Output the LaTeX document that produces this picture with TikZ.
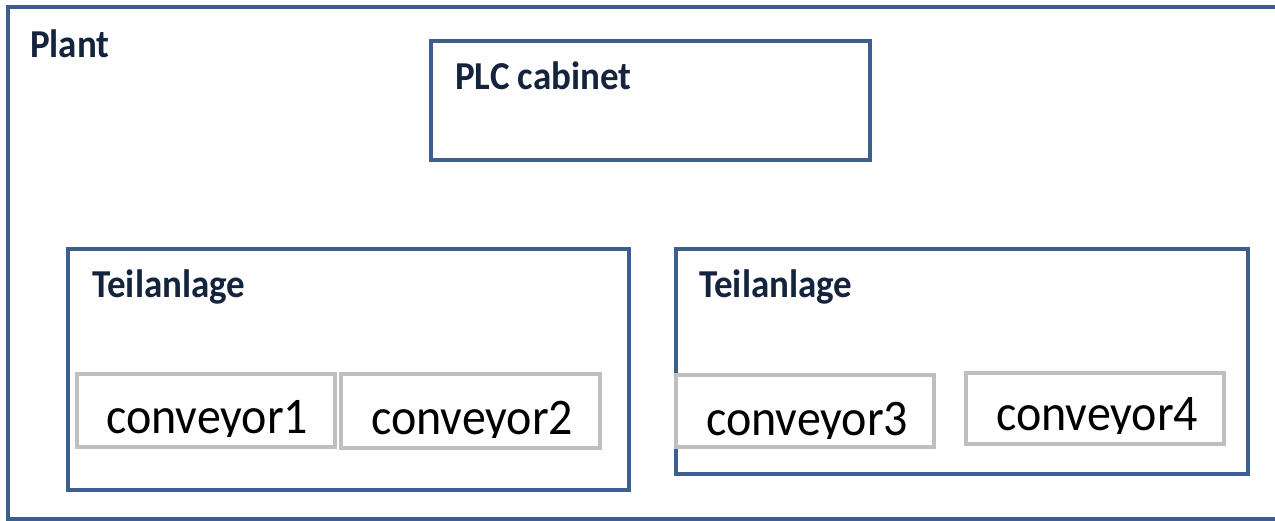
\documentclass[tikz,border=0pt]{standalone}
\usepackage{fontspec}
\setmainfont{Carlito}
\definecolor{frameblue}{HTML}{3C5F8E}
\definecolor{convgray}{HTML}{BFBFBF}
\definecolor{titleink}{HTML}{14243D}
% slightly tall lettering
\newcommand{\tallword}[1]{\scalebox{1}[1.07]{#1}}
\begin{document}
\begin{tikzpicture}[x=1pt,y=-1pt,
  frame/.style={draw=frameblue,line width=4pt,inner sep=0pt,outer sep=0pt,anchor=north west},
  convbox/.style={draw=convgray,line width=4pt,fill=white,inner sep=0pt,outer sep=0pt,anchor=north west},
  title/.style={font=\fontsize{37}{40}\selectfont\bfseries,text=titleink,anchor=base west,inner sep=0pt},
  convlabel/.style={font=\fontsize{48}{52}\selectfont,text=black,anchor=base west,inner sep=0pt}]
\useasboundingbox (0,0) rectangle (1275,520);
\clip (0,0) rectangle (1275,520);
\fill[white] (0,0) rectangle (1275,520);

% outer plant frame (runs past the right edge)
\node[frame,minimum width=1300pt,minimum height=512pt] (plant) at (8,7) {};
\node[title] (plantlbl) at (30,57) {\tallword{Plant}};

% PLC cabinet
\node[frame,minimum width=439pt,minimum height=119pt] (plc) at (431,41) {};
\node[title] (plclbl) at (455,89) {\tallword{PLC cabinet}};

% sub-plants
\node[frame,minimum width=561pt,minimum height=241pt] (teilA) at (68,249) {};
\node[title] (teilAlbl) at (92,297) {\tallword{Teilanlage}};
\node[frame,minimum width=572pt,minimum height=225pt] (teilB) at (676,249) {};
\node[title] (teilBlbl) at (699,297) {\tallword{Teilanlage}};

% conveyors
\node[convbox,minimum width=258pt,minimum height=73pt] (conv1) at (77,374) {};
\node[convbox,minimum width=259pt,minimum height=74pt] (conv2) at (341,374) {};
\node[convbox,minimum width=258pt,minimum height=72pt] (conv3) at (676,375) {};
\node[convbox,minimum width=258pt,minimum height=71pt] (conv4) at (966,373) {};

% conveyor labels, cut off just below the baseline
\begin{scope}
  \clip (77,374) rectangle (335,436);
  \node[convlabel] (conv1lbl) at (106,433) {\tallword{conveyor1}};
\end{scope}
\begin{scope}
  \clip (341,374) rectangle (600,437);
  \node[convlabel] (conv2lbl) at (371,434) {\tallword{conveyor2}};
\end{scope}
\begin{scope}
  \clip (676,375) rectangle (934,438);
  \node[convlabel] (conv3lbl) at (706,435) {\tallword{conveyor3}};
\end{scope}
\begin{scope}
  \clip (966,373) rectangle (1224,433);
  \node[convlabel] (conv4lbl) at (996,430) {\tallword{conveyor4}};
\end{scope}
\end{tikzpicture}
\end{document}
